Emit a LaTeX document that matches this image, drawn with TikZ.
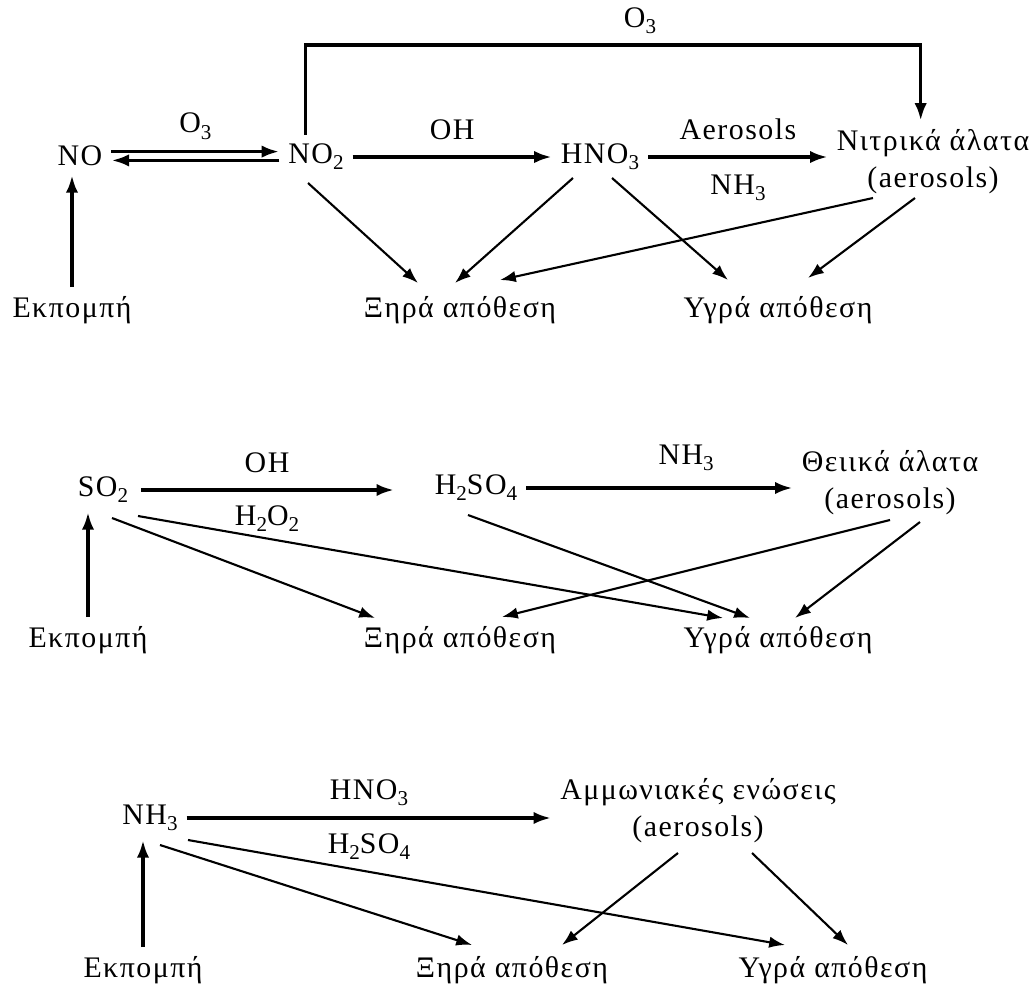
\documentclass[tikz,border=0pt]{standalone}
\usepackage{fontspec}
\setmainfont{Liberation Serif}[LetterSpace=5]
\usetikzlibrary{arrows.meta, calc}

\newcommand{\chsub}[1]{\raisebox{-0.45ex}{\fontsize{12}{12}\selectfont #1}}

\tikzset{
  chem/.style={inner sep=5pt, font=\fontsize{17}{21}\selectfont, align=center},
  lbl/.style={inner sep=1pt, font=\fontsize{17}{21}\selectfont},
  react/.style={-{Latex[length=10pt,width=7pt]}, line width=2pt},
  dep/.style={-{Latex[length=9pt,width=6.5pt]}, line width=1.2pt},
}

\begin{document}
\begin{tikzpicture}[x=0.02cm, y=-0.02cm]
  \useasboundingbox (0,0) rectangle (1036,985);

  % nitrogen oxides
  \node[chem] (no) at (80,156) {NO};
  \node[chem] (no2) at (316,157) {NO\chsub{2}};
  \node[chem] (hno) at (600,157) {HNO\chsub{3}};
  \node[chem] (nitr) at (933,162) {Νιτρικά άλατα\\(aerosols)};
  \node[chem] (emis1) at (72,310) {Εκπομπή};
  \node[chem] (xira1) at (460,310) {Ξηρά απόθεση};
  \node[chem] (ygra1) at (778,310) {Υγρά απόθεση};
  \coordinate (o3top) at (640,45);

  \draw[react] (emis1.north) -- (emis1.north |- no.south);
  \draw[react] ([yshift=2.5pt]no.east) -- ([yshift=2.5pt]no.east -| no2.west)
    node[lbl, midway, above=5pt] (lO3a) {O\chsub{3}};
  \draw[react] ([yshift=-2.5pt]no.east -| no2.west) -- ([yshift=-2.5pt]no.east);
  \draw[react] (no2.east) -- (no2.east -| hno.west)
    node[lbl, midway, above=8pt] (lOH1) {OH};
  \draw[react] (hno.east) -- (hno.east -| nitr.west)
    node[lbl, midway, above=8pt] (lAer) {Aerosols}
    node[lbl, midway, below=8pt] (lNH1) {NH\chsub{3}};
  \draw[react] ([xshift=-6pt]no2.north) |- (o3top) -| ([xshift=-7pt]nitr.north);
  \node[lbl, above=5pt] (lO3b) at (o3top) {O\chsub{3}};

  \draw[dep] ($(no2)+(-8,26)$) -- ($(xira1)+(-42,-27)$);
  \draw[dep] ($(hno)+(-27,21)$) -- ($(xira1)+(-5,-27)$);
  \draw[dep] ($(nitr)+(-60,36)$) -- ($(xira1)+(40,-30)$);
  \draw[dep] ($(hno)+(12,21)$) -- ($(ygra1)+(-50,-30)$);
  \draw[dep] ($(nitr)+(-18,36)$) -- ($(ygra1)+(30,-32)$);

  % sulphur
  \node[chem] (so2) at (103,490) {SO\chsub{2}};
  \node[chem] (hso) at (476,488) {H\chsub{2}SO\chsub{4}};
  \node[chem] (theik) at (890,483) {Θειικά άλατα\\(aerosols)};
  \node[chem] (emis2) at (88,640) {Εκπομπή};
  \node[chem] (xira2) at (460,640) {Ξηρά απόθεση};
  \node[chem] (ygra2) at (778,640) {Υγρά απόθεση};

  \draw[react] (emis2.north) -- (emis2.north |- so2.south);
  \draw[react, shorten <=2pt, shorten >=18pt] (so2.east) -- (so2.east -| hso.west)
    node[lbl, pos=0.45, above=8pt] (lOH2) {OH}
    node[lbl, pos=0.45, below=7pt] (lHO) {H\chsub{2}O\chsub{2}};
  \draw[react] (hso.east) -- (hso.east -| theik.west)
    node[lbl, pos=0.6, above=8pt] (lNH2) {NH\chsub{3}};

  \draw[dep] ($(so2)+(9,28)$) -- ($(xira2)+(-85,-22)$);
  \draw[dep] ($(so2)+(35,26)$) -- ($(ygra2)+(-55,-22)$);
  \draw[dep] ($(hso)+(-8,27)$) -- ($(ygra2)+(-28,-22)$);
  \draw[dep] ($(theik)+(0,37)$) -- ($(xira2)+(42,-23)$);
  \draw[dep] ($(theik)+(30,39)$) -- ($(ygra2)+(17,-22)$);

  % ammonia
  \node[chem] (nh3) at (150,818) {NH\chsub{3}};
  \node[chem] (amm) at (698,811) {Αμμωνιακές ενώσεις\\(aerosols)};
  \node[chem] (emis3) at (143,970) {Εκπομπή};
  \node[chem] (xira3) at (512,970) {Ξηρά απόθεση};
  \node[chem] (ygra3) at (833,970) {Υγρά απόθεση};

  \draw[react] (emis3.north) -- (emis3.north |- nh3.south);
  \draw[react] (nh3.east) -- (nh3.east -| amm.west)
    node[lbl, midway, above=5pt] (lHN) {HNO\chsub{3}}
    node[lbl, midway, below=7pt] (lHS) {H\chsub{2}SO\chsub{4}};

  \draw[dep] ($(nh3)+(10,27)$) -- ($(xira3)+(-40,-25)$);
  \draw[dep] ($(nh3)+(38,22)$) -- ($(ygra3)+(-48,-25)$);
  \draw[dep] ($(amm)+(-20,42)$) -- ($(xira3)+(50,-25)$);
  \draw[dep] ($(amm)+(54,42)$) -- ($(ygra3)+(15,-25)$);
\end{tikzpicture}
\end{document}
